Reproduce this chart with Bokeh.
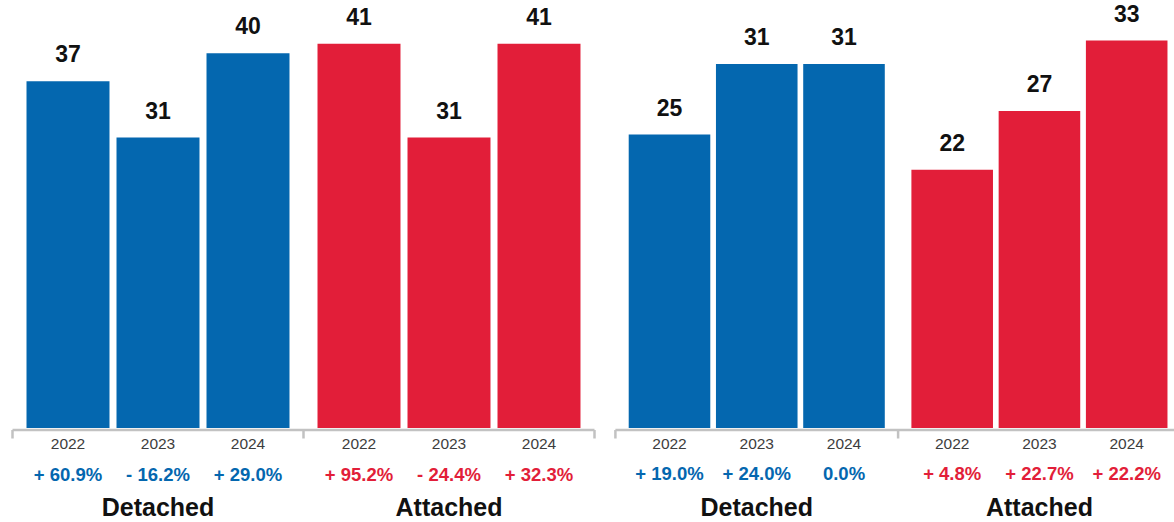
from bokeh.plotting import figure
from bokeh.layouts import row
from bokeh.models import Range1d, ColumnDataSource
from bokeh.core.properties import value
from bokeh.embed import file_html
from bokeh.resources import INLINE

# ---------------- data ----------------
years = ["2022", "2023", "2024"]
groups = ["Detached", "Attached"]

left_detached = [37, 31, 40]
left_attached = [41, 31, 41]
left_detached_chg = [60.9, -16.2, 29.0]
left_attached_chg = [95.2, -24.4, 32.3]

right_detached = [25, 31, 31]
right_attached = [22, 27, 33]
right_detached_chg = [19.0, 24.0, 0.0]
right_attached_chg = [4.8, 22.7, 22.2]

# ---------------- style ----------------
BLUE = "#0467AF"
RED = "#E21E39"
GROUP_COLORS = [BLUE, RED]
AXIS_GRAY = "#C2C2C2"
FONT = value("Liberation Sans")
H = 522
BASE = 427.5  # frame-relative pixel of value 0


def fmt_chg(c):
    if c > 0:
        return "+ %.1f%%" % c
    if c < 0:
        return "- %.1f%%" % abs(c)
    return "%.1f%%" % c


def panel(vals, chgs, width, page_left, first_center, unit, gap, bar_w, k, pct_dy):
    xs, tops, cols, labs, pcts, yrs = [], [], [], [], [], []
    for gi in range(len(groups)):
        for yi, yr in enumerate(years):
            xs.append(gi * (3 + gap) + yi + 0.5)
            tops.append(vals[gi][yi])
            cols.append(GROUP_COLORS[gi])
            labs.append(str(vals[gi][yi]))
            pcts.append(fmt_chg(chgs[gi][yi]))
            yrs.append(yr)
    src = ColumnDataSource(dict(x=xs, top=tops, color=cols, lab=labs, pct=pcts,
                                yr=yrs, zero=[0] * len(xs)))

    start = (page_left - first_center) / unit + 0.5
    p = figure(width=width, height=H,
               x_range=Range1d(start, start + width / unit),
               y_range=Range1d(-(H - BASE) / k, BASE / k),
               output_backend="svg", toolbar_location=None,
               x_axis_location=None, y_axis_location=None,
               min_border=0, outline_line_color=None, title=None)
    p.grid.visible = False
    p.background_fill_color = "white"
    p.border_fill_color = "white"

    p.vbar(x="x", top="top", bottom=0, width=bar_w, color="color",
           line_color=None, source=src)

    # value labels
    p.text(x="x", y="top", text="lab", source=src, text_align="center",
           text_baseline="alphabetic", y_offset=-27.5, text_font=FONT,
           text_font_style="bold", text_font_size="23px", text_color="#111111")

    # baseline axis + separators
    bounds = [gi * (3 + gap) - gap / 2 for gi in range(len(groups) + 1)]
    y_line = -2.0 / k
    p.segment(x0=[bounds[0]], x1=[bounds[-1]], y0=[y_line], y1=[y_line],
              line_color=AXIS_GRAY, line_width=2.5)
    p.segment(x0=bounds, x1=bounds, y0=[y_line] * len(bounds),
              y1=[-10.5 / k] * len(bounds), line_color=AXIS_GRAY, line_width=2.5)

    # year labels
    p.text(x="x", y="zero", text="yr", source=src, text_align="center",
           text_baseline="alphabetic", y_offset=15.5, text_font=FONT,
           text_font_size="15.5px", text_color="#3d3d3d")
    # change labels
    p.text(x="x", y="zero", text="pct", source=src, text_align="center",
           text_baseline="alphabetic", y_offset=pct_dy, text_font=FONT,
           text_font_style="bold", text_font_size="18.5px", text_color="color")
    # group labels
    gx = [gi * (3 + gap) + 1.5 for gi in range(len(groups))]
    p.text(x=gx, y=[0] * len(gx), text=groups, text_align="center",
           text_baseline="alphabetic", y_offset=79, text_font=FONT,
           text_font_style="bold", text_font_size="25px", text_color="#111111")
    return p


left = panel([left_detached, left_attached], [left_detached_chg, left_attached_chg],
             width=608, page_left=0, first_center=67.5, unit=90.0, gap=0.2333,
             bar_w=0.922, k=9.37, pct_dy=46.5)
right = panel([right_detached, right_attached], [right_detached_chg, right_attached_chg],
              width=566, page_left=608, first_center=669.0, unit=87.25, gap=0.24,
              bar_w=0.935, k=11.74, pct_dy=45)

layout = row(left, right, spacing=0)
open("out.html", "w").write(file_html(layout, INLINE))
